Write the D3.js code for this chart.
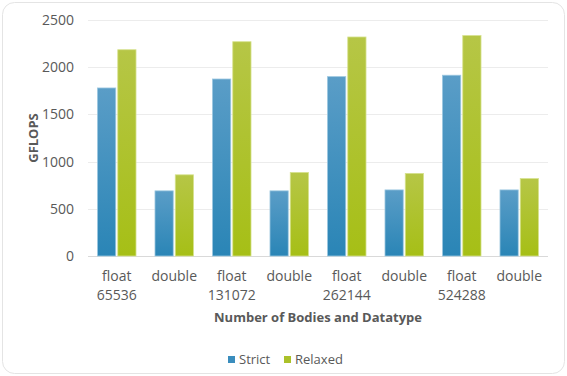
<!DOCTYPE html>
<html>
<head>
<meta charset="utf-8">
<script src="https://cdn.jsdelivr.net/npm/d3@7"></script>
<style>
	body { margin: 0; background: #fff; }
	svg text { font-family: "Open Sans", sans-serif; fill: #595959; }
</style>
</head>
<body>
<div id="chart"></div>
<script>
// chart data
var categories = [["float", "65536"], ["double", ""], ["float", "131072"], ["double", ""],
	["float", "262144"], ["double", ""], ["float", "524288"], ["double", ""]];
var seriesNames = ["Strict", "Relaxed"];
var strictValues = [1780, 690, 1875, 690, 1900, 700, 1915, 700];
var relaxedValues = [2185, 860, 2270, 885, 2320, 875, 2335, 820];
var yTicks = [0, 500, 1000, 1500, 2000, 2500];

var width = 567, height = 376;
var margin = {top: 20, right: 19, bottom: 120, left: 88};

var svg = d3.select("#chart").append("svg")
	.attr("width", width)
	.attr("height", height);

// outer frame
svg.append("rect")
	.attr("x", 2.5).attr("y", 2.5)
	.attr("width", width - 5).attr("height", height - 5)
	.attr("rx", 12)
	.attr("fill", "#fff")
	.attr("stroke", "#e4e4e4");

var defs = svg.append("defs");
function grad(id, top, bottom){
	var g = defs.append("linearGradient").attr("id", id)
		.attr("x1", 0).attr("y1", 0).attr("x2", 0).attr("y2", 1);
	g.append("stop").attr("offset", "0%").attr("stop-color", top);
	g.append("stop").attr("offset", "100%").attr("stop-color", bottom);
}
grad("g-strict", "#5a9dc7", "#2a85b6");
grad("g-relaxed", "#b6c646", "#a6bf16");
var fills = ["url(#g-strict)", "url(#g-relaxed)"];
var legendColors = ["#3a8dbd", "#abc12a"];

var plotW = width - margin.left - margin.right,
	plotH = 256 - margin.top;

var g = svg.append("g").attr("transform", "translate(" + margin.left + "," + margin.top + ")");

var x0 = d3.scaleBand().domain(d3.range(categories.length)).range([0, plotW]).paddingInner(0).paddingOuter(0);
var x1 = d3.scaleBand().domain([0, 1]).range([x0.bandwidth() * 0.165, x0.bandwidth() * 0.835]).paddingInner(0.1);
var y = d3.scaleLinear().domain([0, 2500]).range([plotH, 0]);

// gridlines
g.append("g")
	.selectAll("line")
	.data(yTicks)
	.enter()
	.append("line")
	.attr("x1", 0)
	.attr("x2", plotW)
	.attr("y1", function(d){ return Math.round(y(d)) + 0.5; })
	.attr("y2", function(d){ return Math.round(y(d)) + 0.5; })
	.attr("stroke", function(d){ return d === 0 ? "#d9d9d9" : "#ececec"; })
	.attr("stroke-width", 1);

// y labels
var yAxis = g.append("g").call(d3.axisLeft(y).tickValues(yTicks).tickFormat(d3.format("d")).tickSize(0).tickPadding(14));
yAxis.select(".domain").remove();
yAxis.selectAll("text")
	.style("font-size", "14px")
	.style("fill", "#595959")
	.attr("font-family", null);

// bars
var rows = categories.map(function(c, i){ return [strictValues[i], relaxedValues[i]]; });
var groups = g.selectAll("g.grp")
	.data(rows)
	.enter()
	.append("g")
	.attr("class", "grp")
	.attr("transform", function(d, i){ return "translate(" + x0(i) + ",0)"; });

groups.selectAll("rect")
	.data(function(d){ return d; })
	.enter()
	.append("rect")
	.attr("x", function(d, j){ return x1(j); })
	.attr("width", x1.bandwidth())
	.attr("y", function(d){ return y(d); })
	.attr("height", function(d){ return y(0) - y(d); })
	.attr("fill", function(d, j){ return fills[j]; })
	.attr("stroke", function(d, j){ return j === 0 ? "#9cc7e0" : "#d6e28e"; })
	.attr("stroke-width", 0.8);

// x labels
var xl = g.append("g").attr("transform", "translate(0," + plotH + ")");
categories.forEach(function(c, i){
	var t = xl.append("text")
		.attr("text-anchor", "middle")
		.attr("x", x0(i) + x0.bandwidth() / 2)
		.style("font-size", "14px");
	t.append("tspan").attr("x", x0(i) + x0.bandwidth() / 2).attr("y", 25).text(c[0]);
	if (c[1]) t.append("tspan").attr("x", x0(i) + x0.bandwidth() / 2).attr("y", 44).text(c[1]);
});

// axis titles
svg.append("text")
	.attr("transform", "translate(38," + (margin.top + plotH / 2) + ") rotate(-90)")
	.attr("text-anchor", "middle")
	.style("font-size", "13px")
	.style("font-weight", "bold")
	.text("GFLOPS");

svg.append("text")
	.attr("x", margin.left + plotW / 2)
	.attr("y", 322)
	.attr("text-anchor", "middle")
	.style("font-size", "13px")
	.style("font-weight", "bold")
	.text("Number of Bodies and Datatype");

// legend
var legend = svg.append("g").attr("transform", "translate(228,364)");
var lx = [0, 56];
seriesNames.forEach(function(name, j){
	legend.append("rect")
		.attr("x", lx[j]).attr("y", -8)
		.attr("width", 7).attr("height", 7)
		.attr("fill", legendColors[j]);
	legend.append("text")
		.attr("x", lx[j] + 11).attr("y", 0)
		.style("font-size", "13px")
		.text(name);
});
</script>
</body>
</html>
